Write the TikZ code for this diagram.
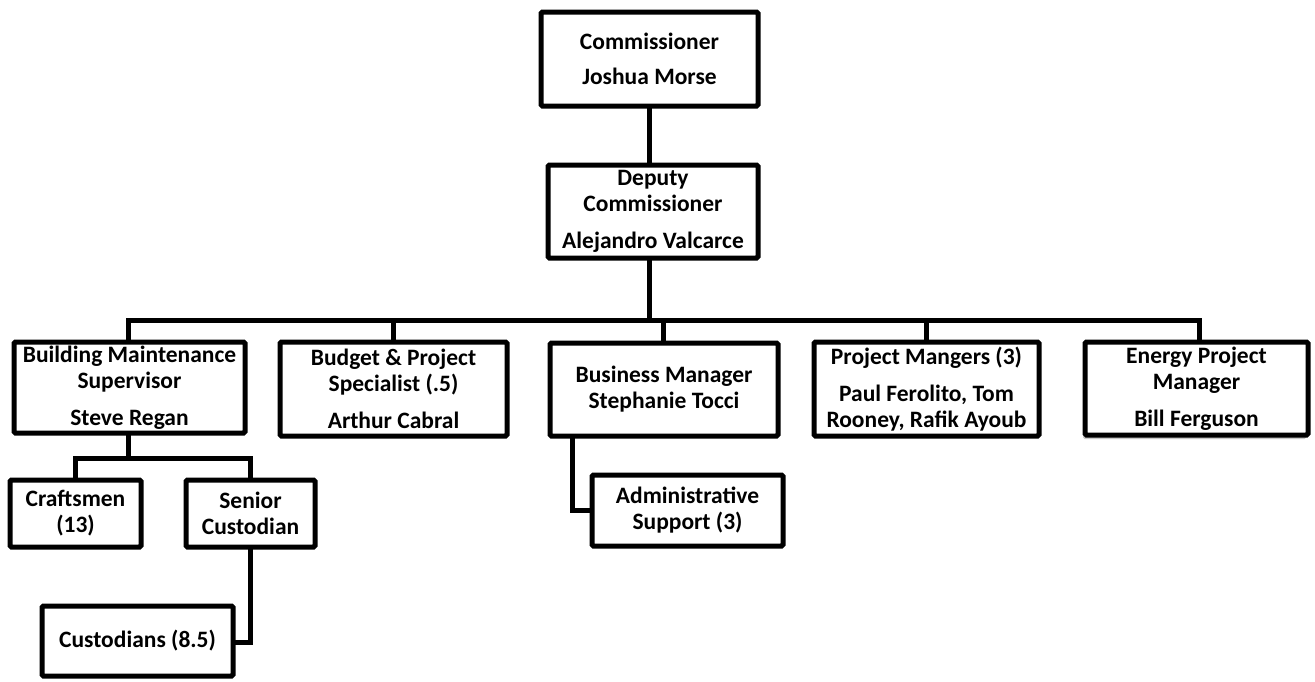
\documentclass[tikz,border=0pt]{standalone}
\usepackage{fontspec}
\setmainfont{Carlito}
\usetikzlibrary{shadows}
\tikzset{
  box/.style={draw=black, line width=5pt, rounded corners=1.5pt, fill=white,
    inner sep=0pt, outer sep=0pt, align=center,
    font=\fontsize{23.5}{26}\selectfont\bfseries},
  conn/.style={draw=black, line width=5pt}
}
\begin{document}
\begin{tikzpicture}[x=1pt,y=-1pt]
\useasboundingbox (0,0) rectangle (1315,681);
% top
\node[box, minimum width=217pt, minimum height=94pt] (comm) at (649.5,59) {Commissioner\\[9pt]Joshua Morse};
\node[box, minimum width=210pt, minimum height=93pt] (dep) at (653,211.5) {Deputy\\Commissioner\\[11pt]Alejandro Valcarce};
% second row
\node[box, minimum width=231pt, minimum height=91pt] (bms) at (129.5,387.5) {Building Maintenance\\Supervisor\\[11pt]Steve Regan};
\node[box, minimum width=227pt, minimum height=94pt] (bud) at (393.5,389) {Budget \& Project\\Specialist (.5)\\[11pt]Arthur Cabral};
\node[box, minimum width=228pt, minimum height=93pt] (bus) at (664,389.5) {Business Manager\\Stephanie Tocci};
\node[box, minimum width=225pt, minimum height=94pt] (pm) at (926.5,389) {Project Mangers (3)\\[11pt]Paul Ferolito, Tom\\Rooney, Rafik Ayoub};
\node[box, minimum width=223pt, minimum height=93pt,
  drop shadow={shadow xshift=-2pt, shadow yshift=-4pt, opacity=0.35, fill=black!60}] (eng) at (1196.5,388.5) {Energy Project\\Manager\\[11pt]Bill Ferguson};
% third row
\node[box, minimum width=131pt, minimum height=67pt] (craft) at (75.5,513.5) {Craftsmen\\(13)};
\node[box, minimum width=129pt, minimum height=67pt] (sen) at (250.5,513.5) {Senior\\Custodian};
\node[box, minimum width=191pt, minimum height=71pt] (adm) at (687.5,510.5) {Administrative\\Support (3)};
\node[box, minimum width=191pt, minimum height=70pt] (cust) at (137.5,641) {Custodians (8.5)};
% coordinates
\coordinate (busy) at (0,320);
\coordinate (suby) at (0,458);
\coordinate (custy) at (0,642);
% connectors
\begin{scope}[on background layer/.try]
\end{scope}
\draw[conn] (comm.south) -- (comm.south |- dep.north);
\draw[conn] (dep.south -| comm.south) -- (comm.south |- busy);
\draw[conn] ([xshift=-1.5pt]bms.north) -- ([xshift=-1.5pt]bms.north |- busy) -- ([xshift=2.5pt]eng.north |- busy) -- ([xshift=2.5pt]eng.north);
\draw[conn] (bud.north) -- (bud.north |- busy);
\draw[conn] ([xshift=-1pt]bus.north) -- ([xshift=-1pt]bus.north |- busy);
\draw[conn] (pm.north) -- (pm.north |- busy);
\draw[conn] ([xshift=-1.5pt]bms.south) -- ([xshift=-1.5pt]bms.south |- suby);
\draw[conn] (craft.north) -- (craft.north |- suby) -- (sen.north |- suby) -- (sen.north);
\draw[conn] (sen.south) -- (sen.south |- custy) -- (cust.east |- custy);
\draw[conn] ([xshift=22pt]bus.south west) |- (adm.west);
\end{tikzpicture}
\end{document}
